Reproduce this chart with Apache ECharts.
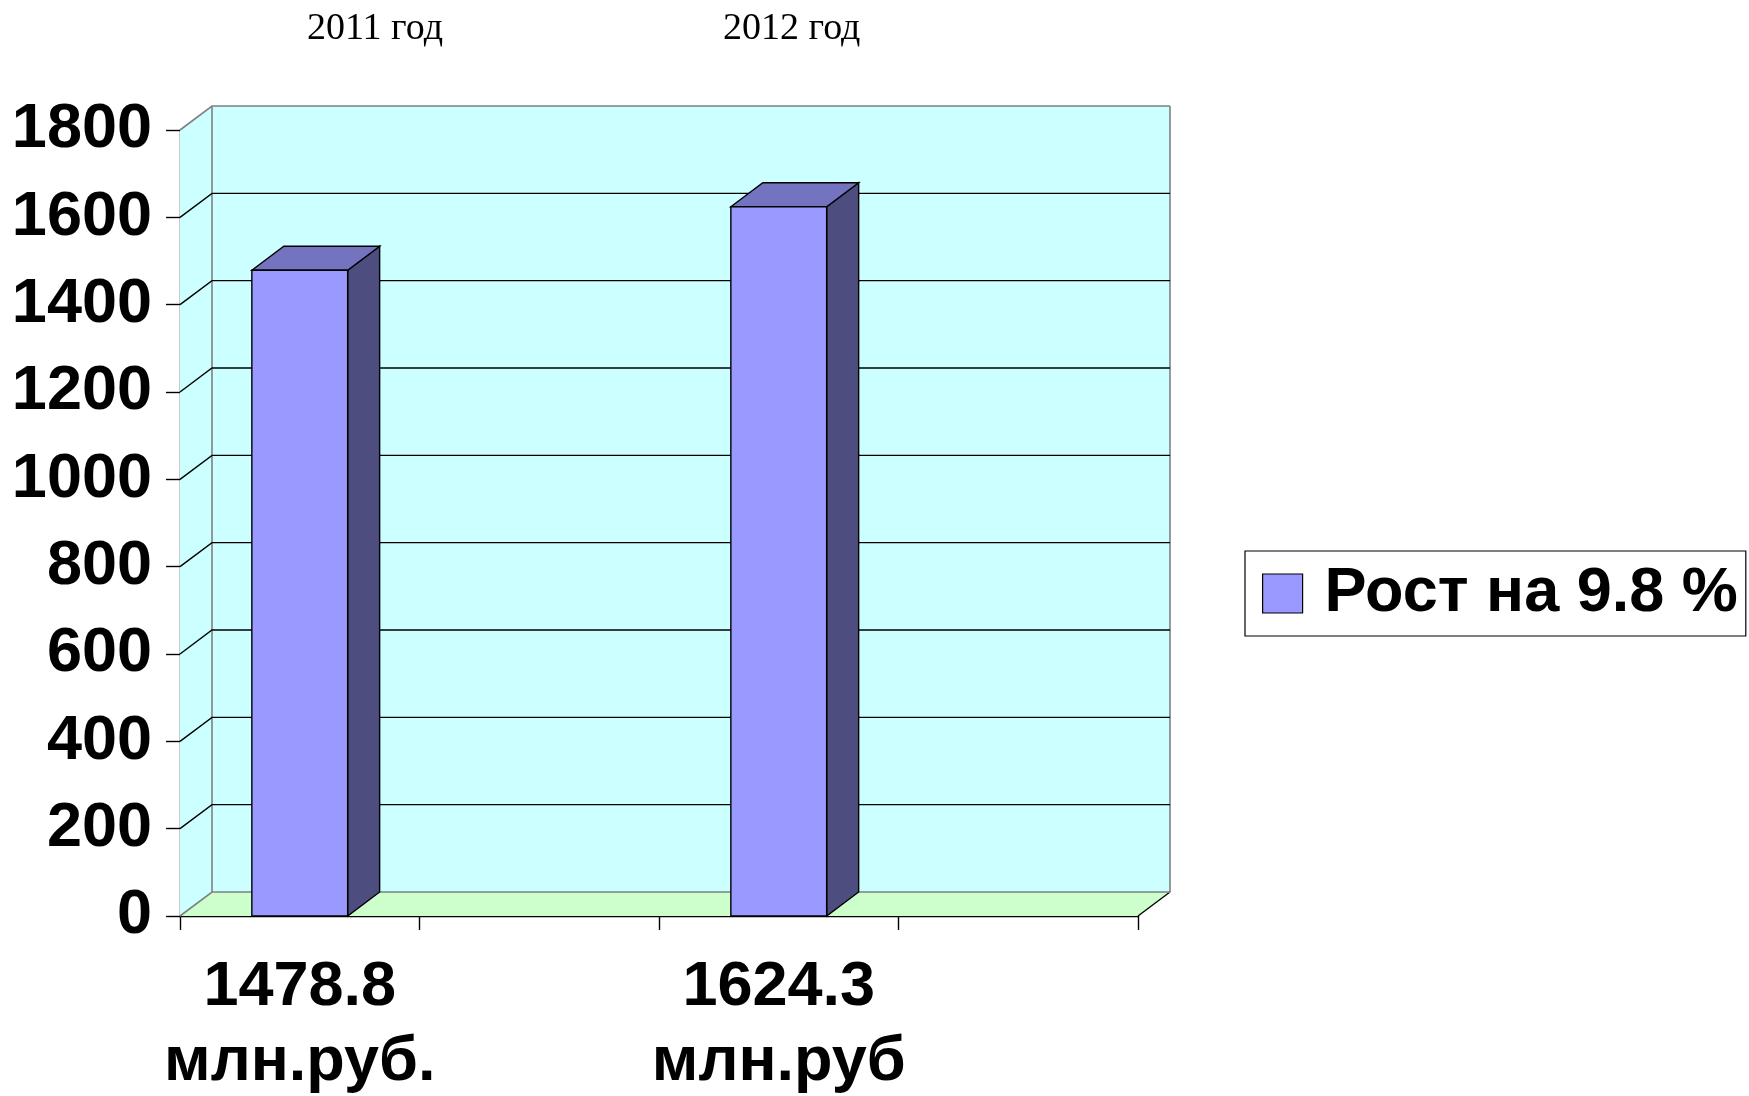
<!DOCTYPE html>
<html>
<head>
<meta charset="utf-8">
<script src="https://cdn.jsdelivr.net/npm/echarts@6/dist/echarts.min.js"></script>
<style>
  html, body { margin: 0; padding: 0; background: #ffffff; }
  #chart { width: 1749px; height: 1096px; }
</style>
</head>
<body>
<div id="chart"></div>
<script>
// ---- data ----
const categories = ['1478.8\nмлн.руб.', '', '1624.3\nмлн.руб', ''];
const values = [1478.8, null, 1624.3, null];
const yTicks = [0, 200, 400, 600, 800, 1000, 1200, 1400, 1600, 1800];
const yearLabels = ['2011 год', '2012 год'];
const seriesName = 'Рост на 9.8 %';

// ---- style constants ----
const DX = 32, DY = -24;          // 3D depth offset
const SANS = "'Liberation Sans', Arial, sans-serif";
const SERIF = "'Liberation Serif', 'Times New Roman', serif";
const yMin = yTicks[0], yMax = yTicks[yTicks.length - 1], yStep = yTicks[1] - yTicks[0];

function line(points, color, width) {
  return { type: 'polyline', shape: { points: points }, style: { stroke: color, lineWidth: width, fill: null } };
}

function wallsRender(params, api) {
  const cs = params.coordSys;
  const x = cs.x, y = cs.y, w = cs.width, h = cs.height;
  const v = api.value(1);
  const yy = api.coord([0, v])[1];
  const children = [];
  if (params.dataIndex === 0) {
    children.push({ type: 'rect', shape: { x: x + DX, y: y + DY, width: w, height: h }, style: { fill: '#CCFFFF' } });
    children.push({ type: 'polygon', shape: { points: [[x, y], [x + DX, y + DY], [x + DX, y + h + DY], [x, y + h]] }, style: { fill: '#CCFFFF' } });
    children.push({ type: 'polygon', shape: { points: [[x, y + h], [x + w, y + h], [x + w + DX, y + h + DY], [x + DX, y + h + DY]] }, style: { fill: '#CCFFCC' } });
    children.push(line([[x + DX, y + h + DY], [x + DX, y + DY]], '#808080', 1.6));
    children.push(line([[x + w + DX, y + DY], [x + w + DX, y + h + DY]], '#808080', 1.6));
    children.push(line([[x + w, y + h], [x + w + DX, y + h + DY]], '#000000', 1.4));
  }
  const edge = (v === yMin || v === yMax);
  children.push(line([[x, yy], [x + DX, yy + DY], [x + w + DX, yy + DY]], edge ? '#808080' : '#000000', edge ? 1.6 : 1.4));
  return { type: 'group', children: children };
}

function barRender(params, api) {
  const v = api.value(1);
  if (v == null || isNaN(v)) return;
  const ci = api.value(0);
  const top = api.coord([ci, v]);
  const base = api.coord([ci, 0]);
  const bw = api.size([1, 0])[0] * 0.4;
  const l = top[0] - bw / 2, r = top[0] + bw / 2, t = top[1], b = base[1];
  const stroke = { stroke: '#000000', lineWidth: 1.4, lineJoin: 'miter' };
  return {
    type: 'group',
    children: [
      { type: 'polygon', shape: { points: [[r, t], [r + DX, t + DY], [r + DX, b + DY], [r, b]] }, style: Object.assign({ fill: '#4D4D80' }, stroke) },
      { type: 'polygon', shape: { points: [[l, t], [r, t], [r + DX, t + DY], [l + DX, t + DY]] }, style: Object.assign({ fill: '#7373BF' }, stroke) },
      { type: 'rect', shape: { x: l, y: t, width: bw, height: b - t }, style: Object.assign({ fill: '#9999FF' }, stroke) }
    ]
  };
}

const chart = echarts.init(document.getElementById('chart'), null, { renderer: 'canvas' });
chart.setOption({
  animation: false,
  backgroundColor: '#ffffff',
  grid: { left: 180, top: 130, width: 958, height: 786, containLabel: false, outerBoundsMode: 'none' },
  xAxis: {
    type: 'category',
    data: categories,
    boundaryGap: true,
    axisLine: { show: true, lineStyle: { color: '#000000', width: 1.4 } },
    axisTick: { show: true, length: 14, lineStyle: { color: '#000000', width: 1.4 } },
    axisLabel: {
      interval: 0, margin: 34, color: '#000000', fontFamily: SANS, fontWeight: 'bold',
      fontSize: 63, lineHeight: 75
    },
    splitLine: { show: false }
  },
  yAxis: {
    type: 'value',
    min: yMin, max: yMax, interval: yStep,
    axisLine: { show: true, lineStyle: { color: '#000000', width: 1.4 } },
    axisTick: { show: true, length: 14, lineStyle: { color: '#000000', width: 1.4 } },
    axisLabel: {
      margin: 28, color: '#000000', fontFamily: SANS, fontWeight: 'bold', fontSize: 63,
      formatter: function (v) { return String(v); }
    },
    splitLine: { show: false }
  },
  legend: {
    data: [seriesName],
    left: 1245, top: 551,
    orient: 'horizontal',
    padding: [11, 8, 11, 17],
    borderColor: '#000000', borderWidth: 1.2,
    backgroundColor: '#ffffff',
    icon: 'rect',
    itemWidth: 40, itemHeight: 39,
    itemStyle: { color: '#9999FF', borderColor: '#000000', borderWidth: 1.2 },
    textStyle: { color: '#000000', fontFamily: SANS, fontWeight: 'bold', fontSize: 63, lineHeight: 62, padding: [0, 0, 0, 17] },
    selectedMode: false
  },
  graphic: [
    { type: 'text', left: 307, top: 10, style: { text: yearLabels[0], fill: '#000000', font: '38px ' + SERIF } },
    { type: 'text', left: 723, top: 10, style: { text: yearLabels[1], fill: '#000000', font: '38px ' + SERIF } }
  ],
  series: [
    {
      name: 'walls', type: 'custom', silent: true, z: 1,
      renderItem: wallsRender,
      encode: { x: 0, y: 1 },
      data: yTicks.map(v => [0, v])
    },
    {
      name: seriesName, type: 'custom', z: 3,
      renderItem: barRender,
      encode: { x: 0, y: 1 },
      itemStyle: { color: '#9999FF', borderColor: '#000000', borderWidth: 1.2 },
      data: values.map((v, i) => [i, v == null ? '-' : v])
    }
  ]
});
</script>
</body>
</html>
